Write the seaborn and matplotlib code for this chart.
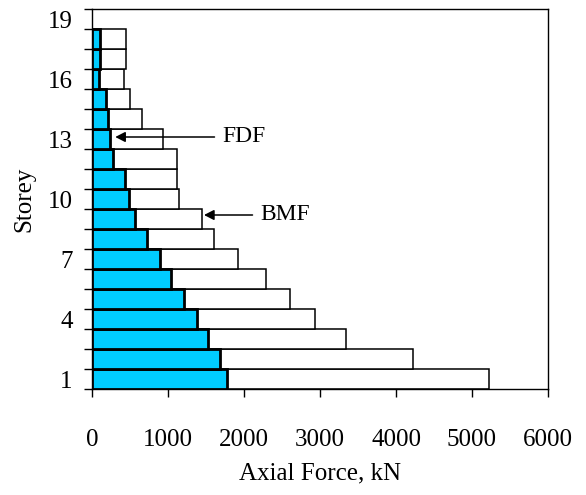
import matplotlib
matplotlib.use("Agg")
import matplotlib.pyplot as plt
import seaborn as sns
import pandas as pd
import numpy as np

# Data
storeys = list(range(1, 19))
bmf = [5220, 4220, 3340, 2930, 2600, 2290, 1925, 1610, 1450, 1150,
       1115, 1115, 940, 660, 494, 420, 450, 450]
fdf = [1770, 1680, 1530, 1385, 1215, 1035, 895, 720, 566, 493,
       428, 276, 231, 205, 188, 96, 100, 100]
ytick_labels = [1, 4, 7, 10, 13, 16, 19]
xticks = [0, 1000, 2000, 3000, 4000, 5000, 6000]

sns.set_theme(style="white")
plt.rcParams['font.family'] = ['Liberation Serif', 'DejaVu Serif']

fig = plt.figure(figsize=(5.86, 4.95), dpi=100)
ax = fig.add_axes([92/586, 1-389/495, 456/586, 380/495])

df = pd.DataFrame({"Storey": storeys, "BMF": bmf, "FDF": fdf})

sns.barplot(data=df, x="BMF", y="Storey", orient="y", native_scale=True,
            width=1.0, color="white", edgecolor="black", linewidth=1.1,
            saturation=1, ax=ax, zorder=2)
sns.barplot(data=df, x="FDF", y="Storey", orient="y", native_scale=True,
            width=1.0, color="#00CCFF", edgecolor="black", linewidth=2.0,
            saturation=1, ax=ax, zorder=3)

ax.set_xlim(0, 6000)
ax.set_ylim(0.5, 19.5)
ax.set_xticks(xticks)
ax.set_xticklabels([str(v) for v in xticks])
ax.set_yticks(ytick_labels)
ax.set_yticklabels([str(v) for v in ytick_labels])
ax.set_yticks(np.arange(0.5, 20, 1.0), minor=True)

ax.tick_params(axis='x', which='major', direction='out', length=6, width=1,
               color='black', labelsize=18, pad=23, labelcolor='black',
               bottom=True)
ax.tick_params(axis='y', which='major', length=0, labelsize=18, pad=14,
               labelcolor='black')
ax.tick_params(axis='y', which='minor', direction='out', length=6, width=1,
               color='black', left=True)

for s in ax.spines.values():
    s.set_visible(True)
    s.set_color('black')
    s.set_linewidth(1.0)

ax.set_xlabel("Axial Force, kN", fontsize=18, color='black', labelpad=8)
ax.set_ylabel("Storey", fontsize=18, color='black')
ax.yaxis.set_label_coords(-0.125, 0.5)

arrow = dict(arrowstyle='-|>,head_length=0.35,head_width=0.18', color='black',
             lw=1.1, shrinkA=3, shrinkB=0)
ax.annotate("FDF", xy=(306, 13.1), xytext=(1710, 13.1), fontsize=17,
            va='center', ha='left', color='black', arrowprops=arrow)
ax.annotate("BMF", xy=(1474, 9.2), xytext=(2210, 9.2), fontsize=17,
            va='center', ha='left', color='black', arrowprops=arrow)

fig.savefig("out.png", dpi=100)
